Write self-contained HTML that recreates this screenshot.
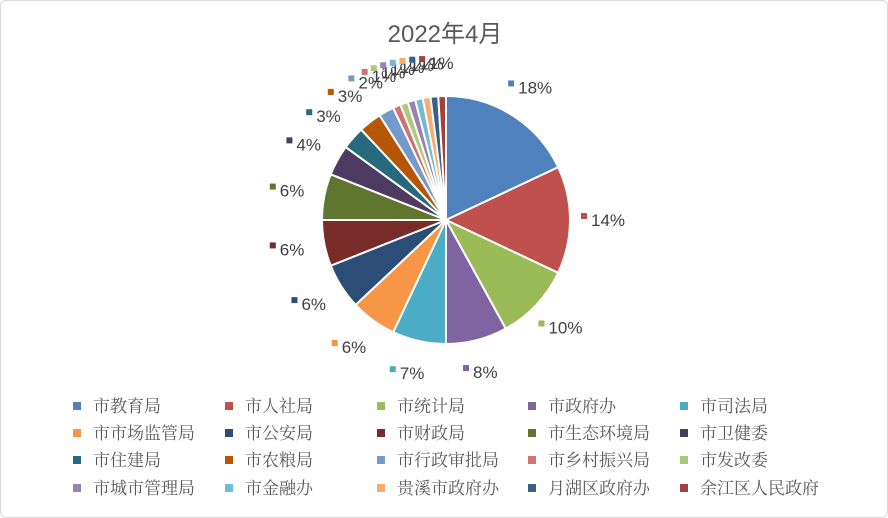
<!DOCTYPE html>
<html><head><meta charset="utf-8"><style>
html,body{margin:0;padding:0;background:#fff;}
#wrap{position:relative;width:886px;height:516px;border:1px solid #d9d9d9;border-radius:6px;overflow:hidden;background:#fff;}
svg{position:absolute;left:0;top:0;}
</style></head><body>
<div id="wrap">
<svg id="chart" width="888" height="518">
<text x="444" y="41" text-anchor="middle" font-family="Liberation Sans, Noto Sans CJK SC, sans-serif" font-size="24" fill="#595959">2022年4月</text>
</svg>
</div>
<script>
const categories = ["市教育局","市人社局","市统计局","市政府办","市司法局","市市场监管局","市公安局","市财政局","市生态环境局","市卫健委","市住建局","市农粮局","市行政审批局","市乡村振兴局","市发改委","市城市管理局","市金融办","贵溪市政府办","月湖区政府办","余江区人民政府"];
const values = [18,14,10,8,7,6,6,6,6,4,3,3,2,1,1,1,1,1,1,1];
const valueLabels = ["18%","14%","10%","8%","7%","6%","6%","6%","6%","4%","3%","3%","2%","1%","1%","1%","1%","1%","1%","1%"];
const colors = ["#4F81BD","#C0504D","#9BBB59","#8064A2","#4BACC6","#F79646","#2C4D75","#772C2A","#5F7530","#4D3B62","#276A7C","#B65708","#729ACA","#CD7371","#AFC97A","#9983B5","#6FBDD1","#F9AB6B","#3A5F8B","#A0413F"];

const svg = document.getElementById('chart');
const NS = 'http://www.w3.org/2000/svg';
const cx = 445, cy = 219, r = 124, lr = 157;
const total = values.reduce((a,b)=>a+b,0);
function pt(angle, rad){ return [cx + Math.sin(angle)*rad, cy - Math.cos(angle)*rad]; }
let acc = 0;
values.forEach((v,i)=>{
  const a0 = acc/total*2*Math.PI, a1 = (acc+v)/total*2*Math.PI;
  acc += v;
  const [x0,y0] = pt(a0,r), [x1,y1] = pt(a1,r);
  const large = (a1-a0) > Math.PI ? 1 : 0;
  const p = document.createElementNS(NS,'path');
  p.setAttribute('d',`M${cx},${cy} L${x0},${y0} A${r},${r} 0 ${large} 1 ${x1},${y1} Z`);
  p.setAttribute('fill',colors[i]);
  p.setAttribute('stroke','#fff');
  p.setAttribute('stroke-width','2');
  
  
  svg.appendChild(p);
  const am = (a0+a1)/2;
  const [lx,ly] = pt(am, lr);
  const g = document.createElementNS(NS,'g');
  
  
  const m = document.createElementNS(NS,'rect');
  m.setAttribute('x', lx-22); m.setAttribute('y', ly-7);
  m.setAttribute('width',6); m.setAttribute('height',6);
  m.setAttribute('fill',colors[i]);
  
  
  g.appendChild(m);
  const t = document.createElementNS(NS,'text');
  t.setAttribute('x', lx-12); t.setAttribute('y', ly+6);
  t.setAttribute('font-family','Liberation Sans, sans-serif');
  t.setAttribute('font-size','17');
  t.setAttribute('fill','#404040');
  t.textContent = valueLabels[i];
  
  
  g.appendChild(t);
  svg.appendChild(g);
});
const colX = [76,228,380,531,683], rowY = [405,432,459,487];
categories.forEach((c,i)=>{
  const x = colX[i%5], y = rowY[Math.floor(i/5)];
  const g = document.createElementNS(NS,'g');
  
  
  const m = document.createElementNS(NS,'rect');
  m.setAttribute('x',x-4); m.setAttribute('y',y-4);
  m.setAttribute('width',8); m.setAttribute('height',8);
  m.setAttribute('fill',colors[i]);
  
  
  g.appendChild(m);
  const t = document.createElementNS(NS,'text');
  t.setAttribute('x',x+16); t.setAttribute('y',y+6);
  t.setAttribute('font-family','Liberation Serif, Noto Serif CJK SC, serif');
  t.setAttribute('font-size','17');
  t.setAttribute('fill','#595959');
  t.textContent = c;
  
  
  g.appendChild(t);
  svg.appendChild(g);
});
</script>
</body></html>
